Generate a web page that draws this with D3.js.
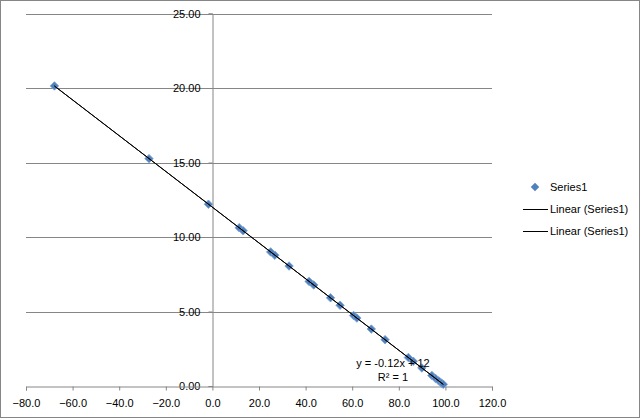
<!DOCTYPE html>
<html>
<head>
<meta charset="utf-8">
<script src="https://cdn.jsdelivr.net/npm/d3@7"></script>
<style>
  body { margin: 0; background: #fff; }
  svg text { font-family: "Liberation Sans", Arial, sans-serif; font-size: 11px; fill: #000; }
</style>
</head>
<body>
<div id="chart"></div>
<script>
// values
const xValues = [-67.8, -27.2, -1.7, 11.5, 13.2, 25.0, 26.8, 32.9, 41.5, 43.5, 50.7, 54.8,
                 60.6, 62.0, 68.2, 74.1, 84.1, 86.2, 89.9, 94.2, 95.8, 97.2, 98.4, 99.1];
const yValues = [20.14, 15.26, 12.20, 10.62, 10.42, 9.00, 8.78, 8.05, 7.02, 6.78, 5.92, 5.42,
                 4.73, 4.56, 3.82, 3.11, 1.91, 1.66, 1.21, 0.70, 0.50, 0.34, 0.19, 0.11];
const xTicks = [-80, -60, -40, -20, 0, 20, 40, 60, 80, 100, 120];
const yTicks = [0, 5, 10, 15, 20, 25];
const legendLabels = ["Series1", "Linear (Series1)", "Linear (Series1)"];
const equationText = "y = -0.12x + 12";
const rSquaredText = "R² = 1";

const size = { width: 640, height: 418 };
const plot = { left: 26, right: 492, top: 13.5, bottom: 386 };
const grey = "#868686";
const blue = "#4f81bd";

const points = xValues.map((x, i) => ({ x: x, y: yValues[i] }));

const xScale = d3.scaleLinear().domain([-80, 120]).range([plot.left, plot.right]);
const yScale = d3.scaleLinear().domain([0, 25]).range([plot.bottom, plot.top]);

const svg = d3.select("#chart").append("svg")
    .attr("width", size.width)
    .attr("height", size.height);

// chart frame
svg.append("rect")
    .attr("x", 0.5).attr("y", 0.5)
    .attr("width", size.width - 1).attr("height", size.height - 1)
    .attr("fill", "#fff").attr("stroke", grey);

// horizontal gridlines
svg.append("g")
    .selectAll("line")
    .data(yTicks.filter((d) => d !== 0))
    .enter()
    .append("line")
    .attr("x1", plot.left).attr("x2", plot.right)
    .attr("y1", (d) => Math.round(yScale(d)) + 0.5)
    .attr("y2", (d) => Math.round(yScale(d)) + 0.5)
    .attr("stroke", grey);

// Y axis at x = 0
const yAxis = svg.append("g")
    .attr("transform", `translate(${Math.round(xScale(0)) + 0.5}, 0)`)
    .call(d3.axisLeft(yScale).tickValues(yTicks).tickFormat(d3.format(".2f")).tickSize(4).tickPadding(8));
yAxis.selectAll("line, path").attr("stroke", grey);
yAxis.selectAll("text").attr("font-size", null).attr("font-family", null);

// X axis at y = 0
const xAxis = svg.append("g")
    .attr("transform", `translate(0, ${Math.round(yScale(0)) + 0.5})`)
    .call(d3.axisBottom(xScale).tickValues(xTicks).tickFormat(d3.format(".1f")).tickSize(4).tickSizeOuter(4).tickPadding(9));
xAxis.selectAll("line, path").attr("stroke", grey);
xAxis.selectAll("text").attr("font-size", null).attr("font-family", null);

// linear trendline (least squares on the points)
const mx = d3.mean(xValues), my = d3.mean(yValues);
const slope = d3.sum(points, (d) => (d.x - mx) * (d.y - my)) / d3.sum(points, (d) => (d.x - mx) * (d.x - mx));
const intercept = my - slope * mx;
const trendData = d3.extent(xValues).map((x) => ({ x: x, y: intercept + slope * x }));
const trendLine = d3.line().x((d) => xScale(d.x)).y((d) => yScale(d.y));

const diamond = d3.symbol().type(d3.symbolSquare).size(36);

// data points
svg.append("g")
    .selectAll("path")
    .data(points)
    .enter()
    .append("path")
    .attr("d", diamond)
    .attr("transform", (d) => `translate(${xScale(d.x)}, ${yScale(d.y)}) rotate(45)`)
    .attr("fill", blue)
    .attr("stroke", "#7ea3d3")
    .attr("stroke-width", 0.8);

// two identical trendlines, as in the legend
[0, 1].forEach(() => {
    svg.append("path")
        .attr("d", trendLine(trendData))
        .attr("fill", "none")
        .attr("stroke", "#000")
        .attr("stroke-width", 1);
});

// trendline label
svg.append("text").attr("x", 393).attr("y", 367).attr("text-anchor", "middle").text(equationText);
svg.append("text").attr("x", 393).attr("y", 381).attr("text-anchor", "middle").text(rSquaredText);

// legend
const legend = svg.append("g");
const legendY = [187, 209, 231];
legendLabels.forEach((label, i) => {
    if (i === 0) {
        legend.append("path")
            .attr("d", diamond)
            .attr("transform", `translate(535, ${legendY[i]}) rotate(45)`)
            .attr("fill", blue);
    } else {
        legend.append("line")
            .attr("x1", 523).attr("x2", 548)
            .attr("y1", legendY[i] + 0.5).attr("y2", legendY[i] + 0.5)
            .attr("stroke", "#000");
    }
    legend.append("text")
        .attr("x", 550)
        .attr("y", legendY[i])
        .attr("dy", "0.35em")
        .text(label);
});
</script>
</body>
</html>
